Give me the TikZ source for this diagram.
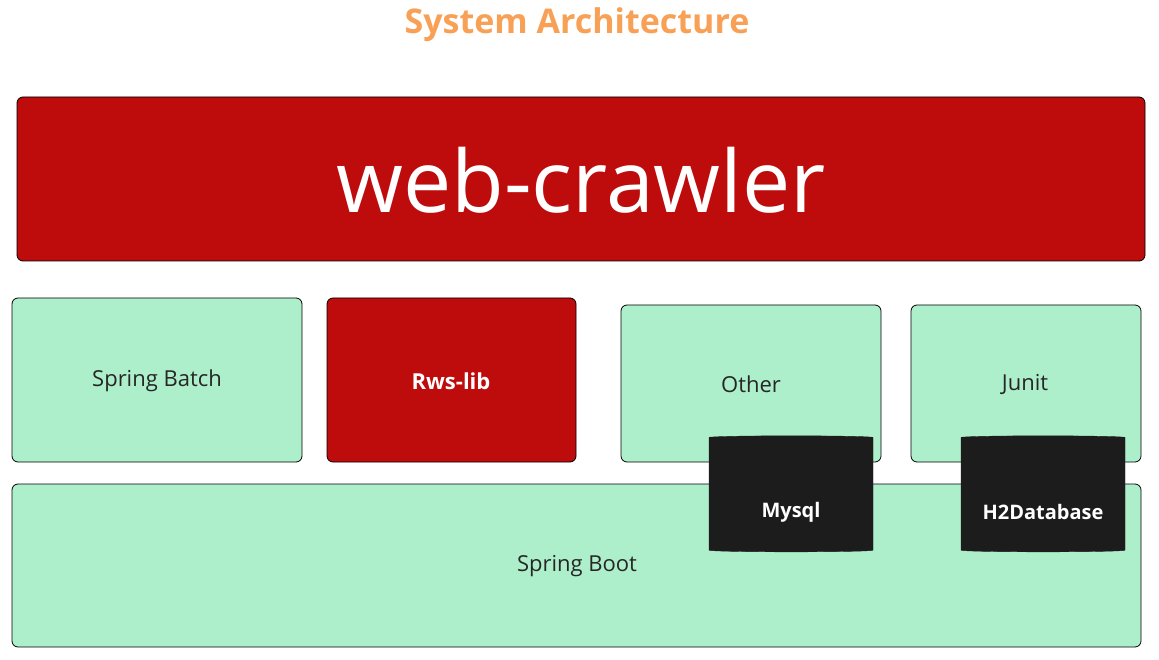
\documentclass[tikz,border=0pt]{standalone}
\usepackage{fontspec}
\setmainfont{Open Sans}
\usetikzlibrary{shapes.geometric}
\definecolor{red1}{HTML}{BE0C0C}
\definecolor{grn}{HTML}{AEEFCB}
\definecolor{org}{HTML}{F8A055}
\definecolor{dark}{HTML}{1C1C1C}
\begin{document}
\begin{tikzpicture}[x=1pt,y=-1pt,
 box/.style={draw=black,line width=0.8pt,rounded corners=6pt},
 gb/.style={box,fill=grn},
 rb/.style={box,fill=red1},
 lbl/.style={font=\fontsize{22}{26}\selectfont,text=black!85},
 db/.style={cylinder,shape border rotate=90,draw=dark,fill=dark,minimum width=164pt,minimum height=116pt,aspect=0.5,text=white,font=\bfseries\fontsize{20}{24}\selectfont}]
\useasboundingbox (0,0) rectangle (1159,660);
\node[font=\bfseries\fontsize{34}{40}\selectfont,text=org] (title) at (577,25) {System Architecture};
\draw[rb] (17,97) rectangle (1145,261);
\node[text=white,font=\fontsize{86}{100}\selectfont] (wc) at (581,180) {web-crawler};
\draw[gb] (12,484) rectangle (1141,647);
\node[lbl] (sb) at (577,566) {Spring Boot};
\draw[gb] (12,298) rectangle (302,462);
\node[lbl] (sbatch) at (157,381) {Spring Batch};
\draw[rb] (327,298) rectangle (576,462);
\node[text=white,font=\bfseries\fontsize{22}{26}\selectfont] (rws) at (451,381) {Rws-lib};
\draw[gb] (621,305) rectangle (881,462);
\node[lbl] (other) at (751,384) {Other};
\draw[gb] (911,305) rectangle (1141,462);
\node[lbl] (junit) at (1025,384) {Junit};
\node[db] (mysql) at (791,495) {};
\node[text=white,font=\bfseries\fontsize{20}{24}\selectfont] (mysqlt) at (791,512) {Mysql};
\node[db] (h2) at (1043,495) {};
\node[text=white,font=\bfseries\fontsize{20}{24}\selectfont] (h2t) at (1043,512) {H2Database};
\end{tikzpicture}
\end{document}
